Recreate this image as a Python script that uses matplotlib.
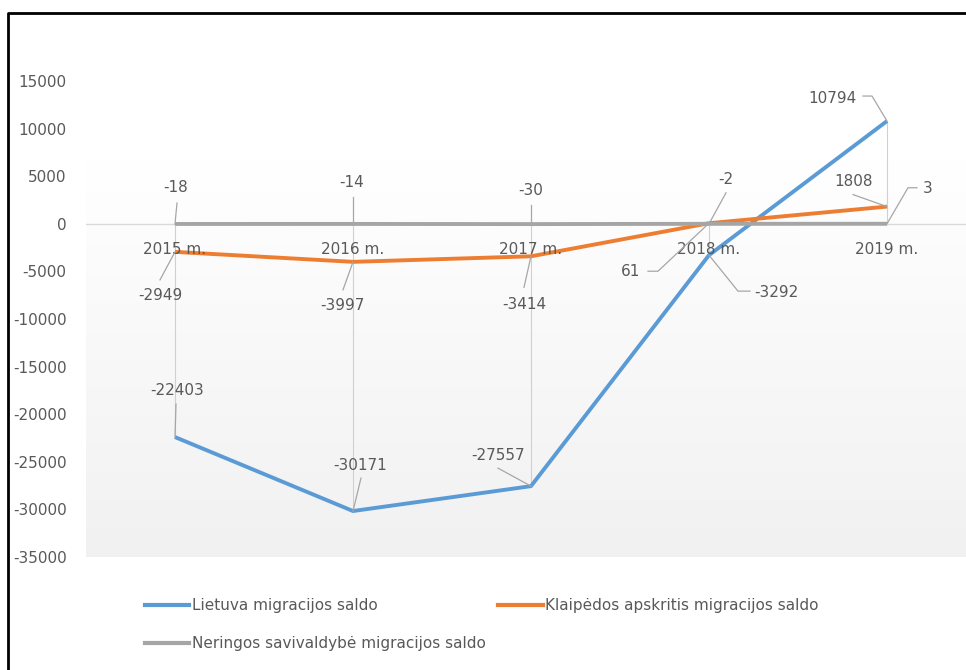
import numpy as np
import matplotlib
matplotlib.use("Agg")
import matplotlib.pyplot as plt
from matplotlib.lines import Line2D

YEARS = ["2015 m.", "2016 m.", "2017 m.", "2018 m.", "2019 m."]
LIETUVA = [-22403, -30171, -27557, -3292, 10794]
KLAIPEDA = [-2949, -3997, -3414, 61, 1808]
NERINGA = [-18, -14, -30, -2, 3]
SERIES_NAMES = [
    "Lietuva migracijos saldo",
    "Klaipėdos apskritis migracijos saldo",
    "Neringos savivaldybė migracijos saldo",
]
Y_TICKS = [15000, 10000, 5000, 0, -5000, -10000, -15000, -20000, -25000, -30000, -35000]

COLORS = ["#5B9BD5", "#ED7D31", "#A5A5A5"]
TEXT = "#595959"
LEADER = "#a6a6a6"

# label offsets (pixels, y up) and leader vertices relative to the point
LABEL_OFF = [
    [(2, 47), (7, 46), (-33, 31), (67, -37), (-55, 23)],
    [(-15, -44), (-11, -44), (-7, -48), (-78, -48), (-33, 25)],
    [(1, 36), (-1, 41), (0, 34), (17, 44), (41, 35)],
]
LEADER_PTS = [
    [[(1, 33)], [(8, 33)], [(-33, 18)], [(41, -36), (29, -36)], [(-24, 25), (-15, 25)]],
    [[(-15, -28)], [(-10, -28)], [(-7, -31)], [(-61, -48), (-51, -48)], [(-34, 12)]],
    [[(2, 21)], [(0, 27)], [(0, 19)], [(17, 31)], [(30, 36), (21, 36)]],
]

W, H = 966, 670
fig = plt.figure(figsize=(W / 100, H / 100), dpi=100)
ax = fig.add_axes([86 / W, (H - 557) / H, 890 / W, 476 / H])
ax.set_xlim(-0.5, len(YEARS) - 0.5)
ax.set_ylim(-35000, 15000)

# plot-area gradient (white at top, light grey at bottom)
g = np.linspace(0, 1, 300)
g = np.clip((g - 0.17) / 0.83, 0, 1)
shade = 1 - 0.055 * g
col = np.repeat(shade[:, None], 2, axis=1)
ax.imshow(np.dstack([col, col, col]), extent=(-0.5, 4.5, -35000, 15000),
          origin="upper", aspect="auto", zorder=0)

for s in ax.spines.values():
    s.set_visible(False)
ax.set_xticks([])
ax.set_yticks(Y_TICKS)
ax.set_yticklabels([str(t) for t in Y_TICKS], color=TEXT, fontsize=11)
ax.tick_params(axis="y", length=0, pad=14)

x = np.arange(len(YEARS))
ax.axhline(0, color="#d9d9d9", lw=1, zorder=1)

data = [LIETUVA, KLAIPEDA, NERINGA]
hi = np.max(data, axis=0)
lo = np.min(data, axis=0)
ax.vlines(x, lo, hi, color="#d0d0d0", lw=0.8, zorder=1)

for i, (vals, c) in enumerate(zip(data, COLORS)):
    ax.plot(x, vals, color=c, lw=2.8, solid_capstyle="butt", zorder=3 + i)

for i, yr in enumerate(YEARS):
    ax.annotate(yr, xy=(i, 0), xytext=(0, -26), textcoords="offset pixels",
                ha="center", va="center", color=TEXT, fontsize=11, zorder=8)

fig.canvas.draw()
for s, vals in enumerate(data):
    for i, v in enumerate(vals):
        dx, dy = LABEL_OFF[s][i]
        ax.annotate(str(v), xy=(i, v), xytext=(dx, dy), textcoords="offset pixels",
                    ha="center", va="center", color=TEXT, fontsize=11, zorder=9)
        px, py = ax.transData.transform((i, v))
        pts = LEADER_PTS[s][i] + [(0, 0)]
        fig.add_artist(Line2D([px + a for a, b in pts], [py + b for a, b in pts],
                              transform=None, color=LEADER, lw=0.9, zorder=2))

# legend filled row by row, like the original
handles = [Line2D([], [], color=c, lw=3) for c in COLORS]
order = [0, 2, 1]
fig.legend([handles[k] for k in order], [SERIES_NAMES[k] for k in order],
           loc="upper left", ncol=2,
           bbox_to_anchor=(145 / W, (H - 598) / H), frameon=False,
           fontsize=11, handlelength=2.9, handletextpad=0.15,
           columnspacing=0.85, labelspacing=1.5, borderpad=0, borderaxespad=0,
           labelcolor=TEXT)

# outer frame (left and top edges visible)
fig.add_artist(Line2D([8 / W, 8 / W, 1.01], [-0.01, (H - 13) / H, (H - 13) / H],
                      transform=fig.transFigure, color="black", lw=2))

fig.savefig("out.png", dpi=100)
